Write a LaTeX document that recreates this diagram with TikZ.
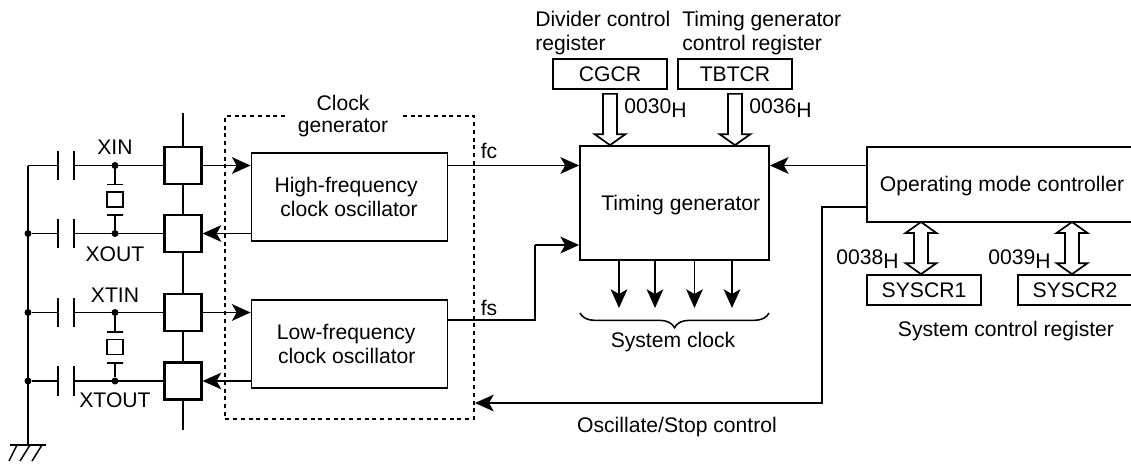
\documentclass[tikz,border=0pt]{standalone}
\usepackage{fontspec}
\setmainfont{Liberation Sans}
\usetikzlibrary{arrows.meta,calc,decorations.pathreplacing}

\tikzset{
  sigline/.style={line width=1.15pt},
  sigarrow/.style={sigline,-{Stealth[length=14pt,width=12.5pt,inset=3.5pt]}},
  busdown/.style={draw,fill=white,line width=1.3pt,to path={let \p1=(\tikztostart),\p2=(\tikztotarget) in
    (\x1-5.25pt,\y1-3pt) -- (\x1+5.25pt,\y1-3pt) -- (\x1+5.25pt,\y2+8.25pt) -- (\x1+11.6pt,\y2+8.25pt)
    -- (\x1,\y2) -- (\x1-11.6pt,\y2+8.25pt) -- (\x1-5.25pt,\y2+8.25pt) -- cycle}},
  busboth/.style={draw,fill=white,line width=1.3pt,to path={let \p1=(\tikztostart),\p2=(\tikztotarget) in
    (\x1,\y1) -- (\x1+11.6pt,\y1-8.25pt) -- (\x1+5.25pt,\y1-8.25pt) -- (\x1+5.25pt,\y2+8.25pt) -- (\x1+11.6pt,\y2+8.25pt)
    -- (\x1,\y2) -- (\x1-11.6pt,\y2+8.25pt) -- (\x1-5.25pt,\y2+8.25pt) -- (\x1-5.25pt,\y1-8.25pt) -- (\x1-11.6pt,\y1-8.25pt) -- cycle}},
  dashline/.style={line width=1.4pt,dash pattern=on 3pt off 2.8pt},
  block/.style={draw,line width=1.3pt,fill=white,inner sep=0pt,align=center,font=\fontsize{15.85}{18}\selectfont},
  pad/.style={draw,line width=1.9pt,fill=white,minimum width=27.5pt,minimum height=27.5pt,inner sep=0pt},
  plate/.style={draw,line width=1.15pt,minimum width=12pt,minimum height=0pt,inner sep=0pt,outer sep=0pt},
  capacitor/.style={minimum width=12pt,minimum height=22pt,inner sep=0pt,outer sep=0pt,
    append after command={(\tikzlastnode.north west) edge[sigline] (\tikzlastnode.south west)
      (\tikzlastnode.north east) edge[sigline] (\tikzlastnode.south east)}},
  quartz/.style={draw,line width=1.15pt,minimum width=12pt,minimum height=11pt,inner sep=0pt},
  dot/.style={circle,fill=black,minimum size=5.25pt,inner sep=0pt},
  caption/.style={inner sep=0pt,align=center,font=\fontsize{15.85}{18}\selectfont}
}

\begin{document}
\begin{tikzpicture}[x=.75pt,y=-.75pt]

        \useasboundingbox (0,0) rectangle (1131,464);

        % main blocks
        \begin{scope}[every node/.style={block}]
          \node[align=right,minimum width=147pt,minimum height=66pt] (high) at (349.5,197) {High-frequency\hspace*{5pt}\\clock oscillator\hspace*{5pt}};
          \node[align=right,minimum width=147pt,minimum height=66pt] (low)  at (349.5,344) {Low-frequency\hspace*{5pt}\\clock oscillator\hspace*{5pt}};
          \node[text height=14.5pt,text depth=3.3pt,align=none,minimum width=141.75pt,minimum height=85.5pt] (timing) at (674.5,203) {\hspace*{9.5pt}Timing generator};
          \node[text height=14.5pt,text depth=3.3pt,align=none,minimum width=202.5pt,minimum height=56.25pt] (mode) at (1002,184.5) {Operating mode controller};
          \node[minimum width=85.5pt,minimum height=22.5pt] (cgcr)  at (610,74)  {CGCR};
          \node[minimum width=85.5pt,minimum height=22.5pt] (tbtcr) at (735,74)  {TBTCR};
          \node[minimum width=85.5pt,minimum height=22.5pt] (sys1)  at (924,290) {SYSCR1};
          \node[minimum width=85.5pt,minimum height=22.5pt] (sys2)  at (1075,290) {SYSCR2};
        \end{scope}

        % clock generator frame
        \draw[dashline] (285,116) -- (225,116) -- (225,419) -- (474,419) -- (474,116) -- (401,116);

        % vertical bus behind the pads
        \coordinate (bustop) at (183,113);
        \coordinate (busend) at (183,430);
        \draw[sigline] (bustop) -- (busend);

        \begin{scope}[every node/.style={pad}]
          \node (p1) at (183,165.5) {};
          \node (p2) at (183,233.5) {};
          \node (p3) at (183,312.5) {};
          \node (p4) at (183,381)   {};
        \end{scope}

        \begin{scope}[every node/.style={capacitor}]
          \node (c1) at (66,165.5) {};
          \node (c2) at (66,233.5) {};
          \node (c3) at (66,312.5) {};
          \node (c4) at (66,381)   {};
        \end{scope}

        \begin{scope}[every node/.style={dot}]
          \node (j1) at (115,165.5) {};
          \node (j2) at (115,233.5) {};
          \node (j3) at (115,312.5) {};
          \node (j4) at (115,381)   {};
          \node (g2) at (28,233.5)  {};
          \node (g3) at (28,312.5)  {};
          \node (g4) at (28,381)    {};
        \end{scope}

        % crystals
        \node[plate]  (x1) at (115,184.5) {};
        \node[quartz] (q1) at (115,199.5) {};
        \node[plate]  (x2) at (115,215)   {};
        \node[plate]  (x3) at (115,332)   {};
        \node[quartz] (q2) at (115,347)   {};
        \node[plate]  (x4) at (115,363)   {};

        % ground
        \coordinate (g1) at (28,165.5);
        \node[plate,minimum width=27pt] (gnd) at (28,445) {};
        \coordinate (h1) at (9,461);
        \coordinate (h2) at (20,461);
        \coordinate (h3) at (32,461);

        \begin{scope}[every edge/.style={draw,sigline}]
          \path (g1) edge (gnd);
          \path (g1) edge (c1.west);
          \path (g2) edge (c2.west);
          \path (g3) edge (c3.west);
          \path (g4) edge (c4.west);
          \path (c1.east) edge (p1.west);
          \path (c2.east) edge (p2.west);
          \path (c3.east) edge (p3.west);
          \path (c4.east) edge (p4.west);
          \path (j1) edge (x1);
          \path (j2) edge (x2);
          \path (j3) edge (x3);
          \path (j4) edge (x4);
          \path (gnd.west) ++(7,0) edge (h1);
          \path (gnd) ++(2,0) edge (h2);
          \path (gnd.east) ++(-4,0) edge (h3);
        \end{scope}

        % clock paths
        \coordinate (fsup) at (535,320);
        \coordinate (fsin) at (535,245);
        \coordinate (stopa) at (822,207);
        \coordinate (stopb) at (822,403);
        \coordinate (stopc) at (475,403);
        \draw[sigline] (high.east |- fsup) -- (fsup) -- (fsin);
        \draw[sigarrow] (fsin) -- (fsin -| timing.west);
        \draw[sigarrow] (mode.west |- stopa) -- (stopa) -- (stopb) -- (stopc);

        \begin{scope}[every edge/.style={draw,sigarrow}]
          \path (p1.east) edge (p1.east -| high.west);
          \path (p2.east -| high.west) edge (p2.east);
          \path (p3.east) edge (p3.east -| low.west);
          \path (p4.east -| low.west) edge (p4.east);
          \path (p1 -| high.east) edge (p1 -| timing.west);
          \path (p1 -| mode.west) edge (p1 -| timing.east);
        \end{scope}

        % system clock outputs
        \coordinate (t1) at (619,308);
        \coordinate (t2) at (655,308);
        \coordinate (t3) at (694.5,308);
        \coordinate (t4) at (732,308);
        \begin{scope}[every edge/.style={draw,sigarrow}]
          \path (t1 |- timing.south) edge (t1);
          \path (t2 |- timing.south) edge (t2);
          \path (t3 |- timing.south) edge (t3);
          \path (t4 |- timing.south) edge (t4);
        \end{scope}

        \coordinate (bl) at (580,313);
        \coordinate (br) at (769,313);
        \draw[sigline,decorate,decoration={brace,mirror,amplitude=11pt}] (bl) -- (br);

        % register buses
        \coordinate (b1) at (921,222);
        \coordinate (b2) at (1072,222);
        \path (cgcr.south) edge[busdown] (cgcr.south |- timing.north);
        \path (tbtcr.south) edge[busdown] (tbtcr.south |- timing.north);
        \path (b1) edge[busboth] (b1 |- sys1.north);
        \path (b2) edge[busboth] (b2 |- sys2.north);

        % labels
        \begin{scope}[every node/.style={caption}]
          \node (txt1)  at (115,147) {XIN};
          \node (txt2)  at (115,254) {XOUT};
          \node (txt3)  at (115,295) {XTIN};
          \node (txt4)  at (115,400) {XTOUT};
          \node (txt5)  at (343,116) {Clock\\[-2pt]generator};
          \node (txt6)  at (489,151) {fc};
          \node (txt7)  at (489,308) {fs};
          \node[anchor=west,align=left] (txt8) at (535,33) {Divider control\\register};
          \node[anchor=west,align=left] (txt9) at (682,33) {Timing generator\\control register};
          \node[anchor=west] (txt10) at (624,108) {0030\raisebox{-3pt}{H}};
          \node[anchor=west] (txt11) at (749,108) {0036\raisebox{-3pt}{H}};
          \node[anchor=west] (txt12) at (836,259) {0038\raisebox{-3pt}{H}};
          \node[anchor=west] (txt13) at (988,259) {0039\raisebox{-3pt}{H}};
          \node (txt14) at (673,342) {System clock};
          \node (txt15) at (1006,331) {System control register};
          \node (txt16) at (677,427) {Oscillate/Stop control};
        \end{scope}

      \end{tikzpicture}
\end{document}
